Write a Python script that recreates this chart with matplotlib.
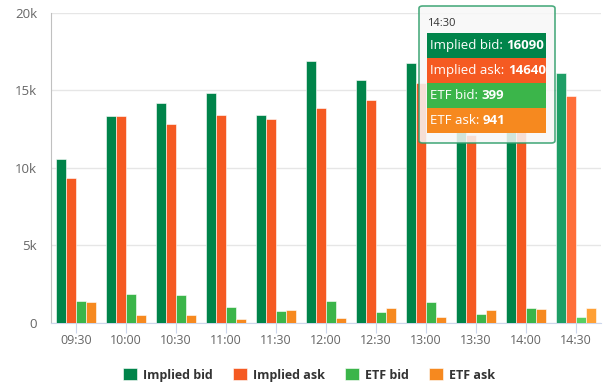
import matplotlib.pyplot as plt
import matplotlib.patches as patches
import numpy as np

times = ["09:30", "10:00", "10:30", "11:00", "11:30", "12:00",
         "12:30", "13:00", "13:30", "14:00", "14:30"]
implied_bid = [10550, 13350, 14200, 14800, 13400, 16900, 15650, 16750, 13600, 14900, 16090]
implied_ask = [9330, 13350, 12800, 13400, 13150, 13850, 14400, 15450, 12100, 13300, 14640]
etf_bid = [1390, 1850, 1780, 1000, 740, 1390, 680, 1320, 530, 930, 399]
etf_ask = [1320, 470, 470, 220, 810, 280, 930, 340, 810, 870, 941]

series_names = ["Implied bid", "Implied ask", "ETF bid", "ETF ask"]
colors = ["#00844a", "#f55a22", "#3bb54a", "#f6891f"]
hover_colors = ["#1e9e66", "#ff6f3a", "#55cf62", "#ffa035"]
hover_idx = 10

plt.rcParams['font.family'] = ['Open Sans', 'DejaVu Sans']

fig = plt.figure(figsize=(6.07, 3.86), dpi=100)
ax = fig.add_axes([51 / 607, 1 - 322.7 / 386, 550 / 607, 310 / 386])

x = np.arange(len(times))
w = 0.2
offsets = [-0.3, -0.1, 0.1, 0.3]
all_series = [implied_bid, implied_ask, etf_bid, etf_ask]
for k, (vals, name) in enumerate(zip(all_series, series_names)):
    cols = [hover_colors[k] if i == hover_idx else colors[k] for i in range(len(times))]
    ax.bar(x + offsets[k], vals, width=w, color=cols, edgecolor='white',
           linewidth=0.4, label=name, zorder=3)

ax.set_xlim(-0.5, len(times) - 0.5)
ax.set_ylim(0, 20000)
ax.set_yticks([0, 5000, 10000, 15000, 20000])
ax.set_yticklabels(["0", "5k", "10k", "15k", "20k"])
ax.set_xticks(x)
ax.set_xticklabels(times)
ax.grid(axis='y', color='#e6e6e6', linewidth=1, zorder=0)
for s in ['top', 'right']:
    ax.spines[s].set_visible(False)
ax.spines['left'].set_color('#c0c0c0')
ax.spines['bottom'].set_color('#ccd6eb')
ax.tick_params(axis='y', length=0, pad=10, labelsize=9.5, labelcolor='#666666')
ax.tick_params(axis='x', length=7, color='#ccd6eb', pad=1, labelsize=9, labelcolor='#666666')

leg = fig.legend(loc='center', ncol=4, frameon=False, bbox_to_anchor=(309 / 607, 1 - 375 / 386),
                 handlelength=1.1, handleheight=1.1, handletextpad=0.5, columnspacing=1.6,
                 prop={'weight': 'bold', 'size': 9})
for t in leg.get_texts():
    t.set_color('#333333')

# tooltip for the hovered point
tip = patches.FancyBboxPatch((419 / 607, 1 - 143 / 386), 136 / 607, 137 / 386,
                             boxstyle='round,pad=0,rounding_size=0.006',
                             transform=fig.transFigure, facecolor='#f7f7f7', alpha=0.85,
                             edgecolor='#2e9e6a', linewidth=1.2, zorder=10)
fig.patches.append(tip)
fig.text(427 / 607, 1 - 23 / 386, times[hover_idx], fontsize=8, color='#333333',
         va='center', ha='left', zorder=11)
tip_vals = [implied_bid[hover_idx], implied_ask[hover_idx], etf_bid[hover_idx], etf_ask[hover_idx]]
for k, (name, v) in enumerate(zip(series_names, tip_vals)):
    y0 = 33 + 25 * k
    row = patches.Rectangle((427 / 607, 1 - (y0 + 25) / 386), 119 / 607, 25 / 386,
                            transform=fig.transFigure, facecolor=colors[k],
                            edgecolor='none', zorder=11)
    fig.patches.append(row)
    t1 = fig.text(430 / 607, 1 - (y0 + 12.5) / 386, name + ": ", fontsize=9.5,
                  color='white', va='center', ha='left', zorder=12)
    fig.canvas.draw()
    bb = t1.get_window_extent()
    fig.text(bb.x1 / fig.bbox.width, 1 - (y0 + 12.5) / 386, str(v), fontsize=9.5,
             color='white', weight='bold', va='center', ha='left', zorder=12)

fig.savefig('out.png', dpi=100)
